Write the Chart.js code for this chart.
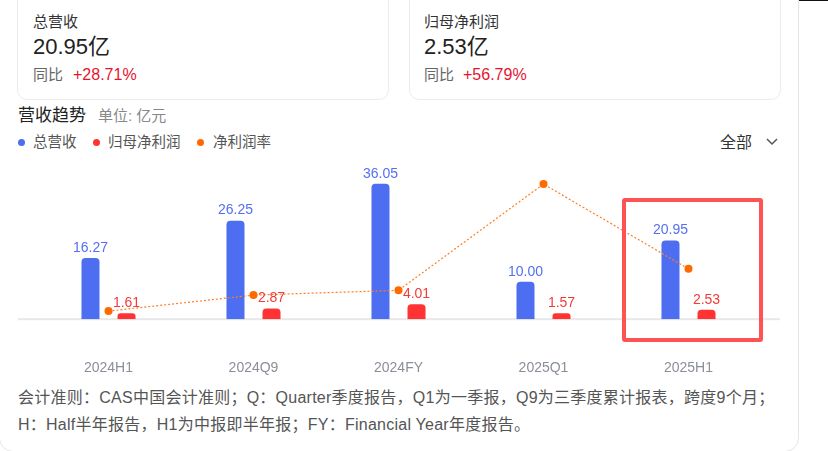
<!DOCTYPE html>
<html><head><meta charset="utf-8">
<script src="https://cdn.jsdelivr.net/npm/chart.js@4.4.1/dist/chart.umd.min.js"></script>
<style>
html,body{margin:0;padding:0;background:#fff;width:828px;height:451px;overflow:hidden;font-family:"Liberation Sans",Arial,"Noto Sans CJK SC",sans-serif;}
.abs{position:absolute;white-space:nowrap;}
.card{position:absolute;border:1px solid #ececec;border-radius:10px;background:#fff;}
.dot{position:absolute;width:7px;height:7px;border-radius:50%;}
</style></head><body>
<div class="abs" style="left:0;top:0;width:828px;height:1px;background:#111;"></div>
<div class="card" style="left:-1px;top:-30px;width:798px;height:480px;border-color:#e6e6e6;border-radius:14px;"></div>
<div class="card" style="left:17px;top:-20px;width:370px;height:118px;"></div>
<div class="card" style="left:409px;top:-20px;width:370px;height:118px;"></div>

<div class="abs" style="left:33px;top:12px;font-size:15px;line-height:20px;color:#333;">总营收</div>
<div class="abs" style="left:33px;top:33px;font-size:22px;line-height:28px;color:#222;">20.95亿</div>
<div class="abs" style="left:33px;top:65px;font-size:15px;line-height:20px;color:#666;">同比</div>
<div class="abs" style="left:73px;top:65px;font-size:16px;line-height:20px;color:#e5142f;">+28.71%</div>

<div class="abs" style="left:424px;top:12px;font-size:15px;line-height:20px;color:#333;">归母净利润</div>
<div class="abs" style="left:424px;top:33px;font-size:22px;line-height:28px;color:#222;">2.53亿</div>
<div class="abs" style="left:424px;top:65px;font-size:15px;line-height:20px;color:#666;">同比</div>
<div class="abs" style="left:463px;top:65px;font-size:16px;line-height:20px;color:#e5142f;">+56.79%</div>

<div class="abs" style="left:18px;top:105px;font-size:17px;line-height:22px;color:#222;">营收趋势</div>
<div class="abs" style="left:98px;top:106px;font-size:15px;line-height:20px;color:#888;">单位: 亿元</div>

<div class="dot" style="left:17.5px;top:138.5px;background:#4d6ef0;"></div>
<div class="abs" style="left:33px;top:132px;font-size:14.5px;line-height:20px;color:#555;">总营收</div>
<div class="dot" style="left:92.5px;top:138.5px;background:#ff3333;"></div>
<div class="abs" style="left:108px;top:132px;font-size:14.5px;line-height:20px;color:#555;">归母净利润</div>
<div class="dot" style="left:196.5px;top:138.5px;background:#ff6a00;"></div>
<div class="abs" style="left:213px;top:132px;font-size:14.5px;line-height:20px;color:#555;">净利润率</div>

<div class="abs" style="left:720px;top:133px;font-size:16px;line-height:20px;color:#333;">全部</div>
<svg class="abs" style="left:764px;top:136px;" width="16" height="12"><polyline points="3,3 8,8 13,3" fill="none" stroke="#555" stroke-width="1.5"/></svg>

<div class="abs" style="left:18px;top:384px;font-size:16px;line-height:27px;color:#555;letter-spacing:0.25px;">会计准则：CAS中国会计准则；Q：Quarter季度报告，Q1为一季报，Q9为三季度累计报表，跨度9个月；<br>H：Half半年报告，H1为中报即半年报；FY：Financial Year年度报告。</div>

<div class="abs" style="left:0;top:150px;width:800px;height:270px;"><canvas id="c" width="800" height="270" style="width:800px;height:270px;"></canvas></div>

<div class="abs" style="left:622px;top:198px;width:133px;height:136px;border:4px solid #ff5353;border-radius:3px;"></div>

<script>
const categories = ['2024H1', '2024Q9', '2024FY', '2025Q1', '2025H1'];
const revenue = [16.27, 26.25, 36.05, 10.00, 20.95];
const netProfit = [1.61, 2.87, 4.01, 1.57, 2.53];
const netMargin = [9.90, 10.63, 10.85, 15.70, 11.83];

Chart.defaults.font.family = '"Liberation Sans", Arial, "Noto Sans CJK SC", sans-serif';

const baseline = {
  id: 'baseline',
  beforeDatasetsDraw(chart) {
    const ctx = chart.ctx;
    const y = chart.scales.y.getPixelForValue(0);
    ctx.save();
    ctx.fillStyle = '#e8e8e8';
    ctx.fillRect(18, y - 1, 762, 2);
    ctx.restore();
  }
};
const barLabels = {
  id: 'barLabels',
  afterDatasetsDraw(chart) {
    const ctx = chart.ctx;
    ctx.save();
    ctx.font = '14px "Liberation Sans", Arial, sans-serif';
    ctx.textAlign = 'center';
    ctx.textBaseline = 'bottom';
    [[0, '#5470f0'], [1, '#f23a3a']].forEach(([di, col]) => {
      const meta = chart.getDatasetMeta(di);
      const ds = chart.data.datasets[di];
      ctx.fillStyle = col;
      meta.data.forEach((el, i) => {
        ctx.fillText(ds.data[i].toFixed(2), el.x, el.y - 3);
      });
    });
    ctx.restore();
  }
};

new Chart(document.getElementById('c'), {
  type: 'bar',
  data: {
    labels: categories,
    datasets: [
      { label: '总营收', data: revenue, backgroundColor: '#4d6ef0', categoryPercentage: 0.497, barPercentage: 0.5, borderRadius: {topLeft: 4, topRight: 4}, borderSkipped: 'bottom', order: 2, yAxisID: 'y' },
      { label: '归母净利润', data: netProfit, backgroundColor: '#ff3333', categoryPercentage: 0.497, barPercentage: 0.5, borderRadius: {topLeft: 4, topRight: 4}, borderSkipped: 'bottom', order: 2, yAxisID: 'y' },
      { type: 'line', label: '净利润率', data: netMargin, yAxisID: 'y2', borderColor: '#ff7f24', borderWidth: 1.2, borderDash: [2, 2], pointRadius: 4, pointHoverRadius: 4, pointBackgroundColor: '#ff6a00', pointBorderWidth: 0, tension: 0, fill: false, order: 0 }
    ]
  },
  options: {
    responsive: false,
    animation: false,
    layout: { padding: { left: 36, right: 39, top: 19, bottom: 2 } },
    plugins: { legend: { display: false }, tooltip: { enabled: false } },
    scales: {
      x: { grid: { display: false, drawTicks: false }, border: { display: false }, ticks: { padding: 41, color: '#8a8f99', font: { size: 14 } } },
      y: { display: false, min: 0, max: 40 },
      y2: { display: false, min: 9.53, max: 16.39, position: 'right' }
    }
  },
  plugins: [baseline, barLabels]
});
</script>
</body></html>
